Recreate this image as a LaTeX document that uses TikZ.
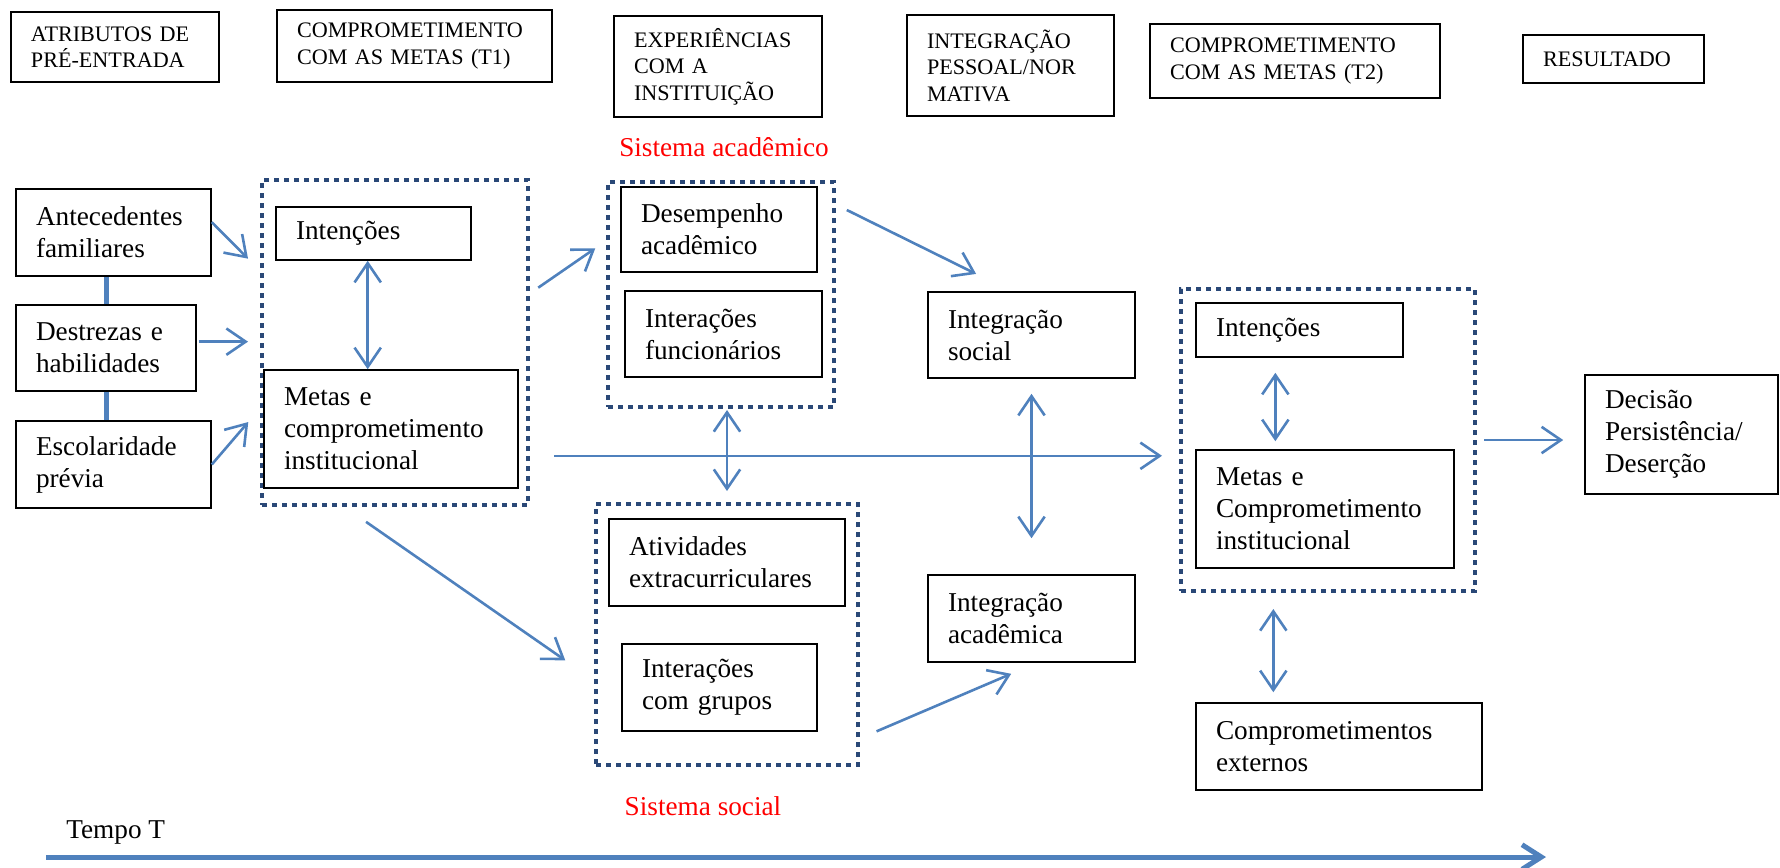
\documentclass[tikz,border=0pt]{standalone}
\usepackage{fontspec}
\setmainfont{Liberation Serif}
\usepackage{tikz}
\usetikzlibrary{arrows.meta}
\newlength{\un}
\setlength{\un}{0.02cm}
\newcommand{\corpo}{\fontsize{15.5}{18.2}\selectfont}
\newcommand{\cabec}{\fontsize{12.6}{15.1}\selectfont}
\definecolor{azul}{HTML}{4F81BD}
\definecolor{pontos}{HTML}{2A4877}
\tikzset{
	caixa/.style={draw, line width=0.9pt, align=left, inner xsep=20\un, inner ysep=2pt, font=\corpo},
	topo/.style={caixa, font=\cabec},
	tam/.style 2 args={text width=#1\un, minimum height=#2\un},
	grupo/.style 2 args={draw=pontos, line width=4\un, dash pattern=on 5\un off 5\un, minimum width=#1\un, minimum height=#2\un, inner sep=0pt},
	seta/.style={draw=azul, line width=2.6\un, -{Straight Barb[length=11pt, width=15pt]}},
	dupla/.style={draw=azul, line width=2.6\un, {Straight Barb[length=11pt, width=15pt]}-{Straight Barb[length=11pt, width=15pt]}},
	elo/.style={draw=azul, line width=5\un},
	tempo/.style={draw=azul, line width=5\un, -{Straight Barb[length=11pt, width=14pt]}},
	sistema/.style={text=red, font=\corpo, anchor=base},
}
\begin{document}
\begin{tikzpicture}[x=\un, y=-\un]
	\useasboundingbox (0,0) rectangle (1780,867);
	% cabecalho
	\node [topo, tam={168}{70}] (atr) at (115,47) {ATRIBUTOS DE\\PRÉ-ENTRADA};
	\node [topo, tam={235}{72}] (ct1) at (414.5,46) {COMPROMETIMENTO\\COM AS METAS (T1)};
	\node [topo, tam={168}{101}] (exp) at (718,66.5) {EXPERIÊNCIAS\\COM A\\INSTITUIÇÃO};
	\node [topo, tam={167}{101}] (ipn) at (1010.5,65.5) {INTEGRAÇÃO\\PESSOAL/NOR\\MATIVA};
	\node [topo, tam={250}{74}] (ct2) at (1295,61) {COMPROMETIMENTO\\COM AS METAS (T2)};
	\node [topo, tam={141}{48}] (res) at (1613.5,59) {RESULTADO};
	%
	\node [grupo={266}{325}] (g1) at (395,342.5) {};
	\node [grupo={226}{225}] (g2) at (721,294.5) {};
	\node [grupo={294}{302}] (g3) at (1328,440) {};
	\node [grupo={262}{261}] (g4) at (727,634.5) {};
	%
	\node [caixa, tam={155}{87}] (ant) at (113.5,232.5) {Antecedentes\\familiares};
	\node [caixa, tam={140}{86}] (des) at (106,348) {Destrezas e\\habilidades};
	\node [caixa, tam={155}{87}] (esc) at (113.5,464.5) {Escolaridade\\prévia};
	\node [caixa, tam={155}{53}] (int1) at (373.5,233.5) {Intenções};
	\node [caixa, tam={214}{118}] (met1) at (391,429) {Metas e\\comprometimento\\institucional};
	\node [caixa, tam={156}{85}] (dsp) at (719,229.5) {Desempenho\\acadêmico};
	\node [caixa, tam={157}{86}] (ifu) at (723.5,334) {Interações\\funcionários};
	\node [caixa, tam={167}{86}] (iso) at (1031.5,335) {Integração\\social};
	\node [caixa, tam={196}{87}] (atv) at (727,562.5) {Atividades\\extracurriculares};
	\node [caixa, tam={155}{87}] (igr) at (719.5,687.5) {Interações\\com grupos};
	\node [caixa, tam={167}{87}] (iac) at (1031.5,618.5) {Integração\\acadêmica};
	\node [caixa, tam={167}{54}] (int2) at (1299.5,330) {Intenções};
	\node [caixa, tam={218}{118}] (met2) at (1325,509) {Metas e\\Comprometimento\\institucional};
	\node [caixa, tam={153}{119}] (dec) at (1681.5,434.5) {Decisão\\Persistência/\\Deserção};
	\node [caixa, tam={246}{87}] (cex) at (1339,746.5) {Comprometimentos\\externos};
	%
	\node [sistema] (sac) at (724,156) {Sistema acadêmico};
	\node [sistema] (sso) at (703,815) {Sistema social};
	\node [font=\corpo, anchor=base west, inner sep=0pt] (tt) at (66,838) {Tempo T};
	\coordinate (t0) at (46,857);
	\coordinate (t1) at (1546,857);
	%
	\draw [elo] (des.north) -- (des.north |- ant.south);
	\draw [elo] (des.south) -- (des.south |- esc.north);
	\draw [seta, shorten >=17\un] (ant.6) -- (g1.152);
	\draw [seta, shorten <=2\un, shorten >=12\un] (des.4) -- (des.4 -| g1.west);
	\draw [seta, shorten >=18\un] (esc.east) -- (g1.206);
	\draw [dupla] (int1.258) -- (int1.258 |- met1.north);
	\draw [seta, shorten <=10\un, shorten >=13\un] (g1.20) -- (g2.155);
	\draw [seta, shorten <=12\un, shorten >=39\un] (g2.38) -- (iso.115);
	\draw [dupla, shorten <=11\un, shorten >=1\un] (g4.north) -- (g4.north |- g2.south);
	\draw [seta, shorten <=24\un, shorten >=17\un] (g1.320) -- (g1.320 -| g3.west);
	\draw [dupla, shorten <=15\un, shorten >=36\un] (iso.south) -- (iac.north);
	\draw [seta, shorten <=26\un, shorten >=35\un] (g1.253) -- (g4.199);
	\draw [seta, shorten <=18\un, shorten >=28\un] (g4.322) -- (iac.277);
	\draw [dupla, shorten <=15\un, shorten >=8\un] (int2.229) -- (int2.229 |- met2.north);
	\draw [seta, shorten <=7\un, shorten >=21\un] (g3.east) -- (g3.east -| dec.west);
	\draw [dupla, shorten <=10\un, shorten >=16\un] (cex.146) -- (cex.146 |- g3.south);
	\draw [tempo] (t0) -- (t1);
\end{tikzpicture}
\end{document}
